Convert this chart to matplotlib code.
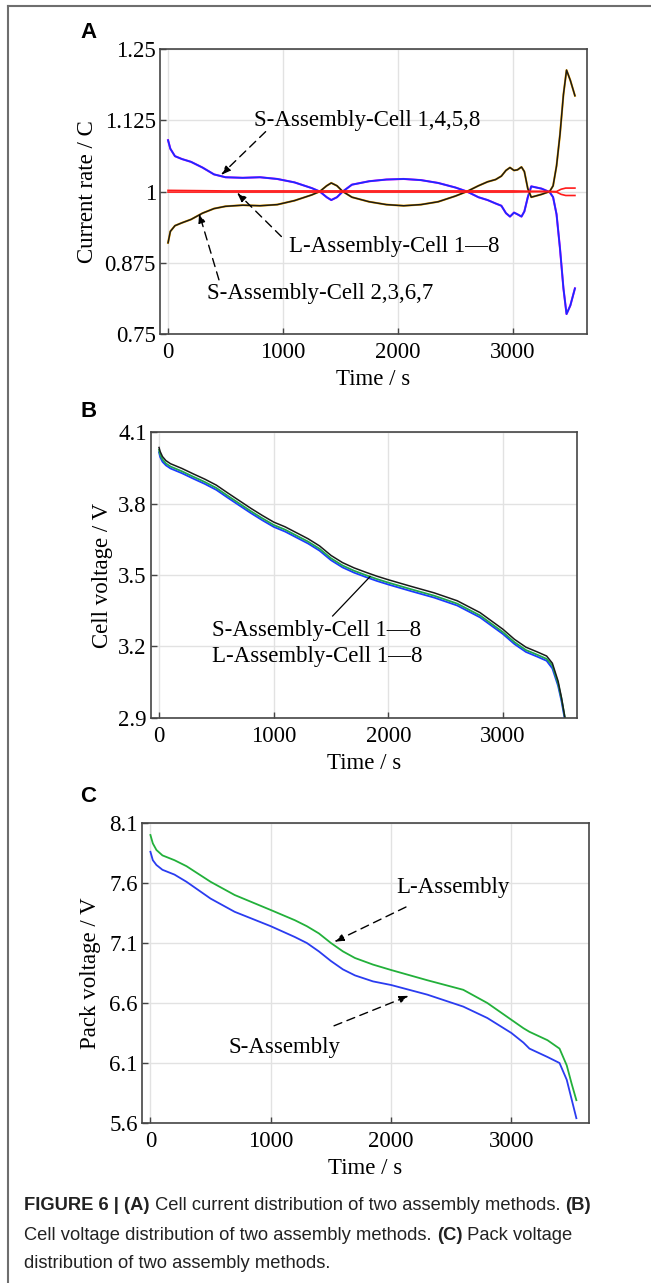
import matplotlib
matplotlib.use("Agg")
import matplotlib.pyplot as plt
from matplotlib.lines import Line2D

# ---- data ----
# panel A: cell current rate
tA = [0, 20, 60, 120, 200, 300, 400, 500, 650, 800, 950, 1100, 1250, 1320, 1380,
      1420, 1470, 1520, 1600, 1750, 1900, 2050, 2200, 2350, 2500, 2600, 2700, 2780,
      2850, 2900, 2940, 2975, 3010, 3040, 3075, 3100, 3130, 3160, 3250, 3320, 3350,
      3380, 3410, 3440, 3467, 3500, 3540]
s_1458 = [1.090, 1.075, 1.062, 1.057, 1.052, 1.042, 1.030, 1.025, 1.024, 1.025, 1.022,
          1.016, 1.006, 1.000, 0.990, 0.985, 0.990, 1.000, 1.012, 1.018, 1.021, 1.022,
          1.020, 1.015, 1.007, 1.000, 0.990, 0.985, 0.979, 0.975, 0.962, 0.956, 0.963,
          0.960, 0.956, 0.965, 0.990, 1.009, 1.005, 0.999, 0.990, 0.960, 0.900, 0.830,
          0.785, 0.800, 0.830]
s_2367 = [0.910, 0.930, 0.940, 0.945, 0.951, 0.962, 0.970, 0.974, 0.976, 0.975, 0.977,
          0.984, 0.994, 1.000, 1.010, 1.015, 1.010, 1.000, 0.990, 0.982, 0.977, 0.975,
          0.977, 0.982, 0.992, 1.000, 1.010, 1.017, 1.021, 1.027, 1.037, 1.042, 1.037,
          1.038, 1.043, 1.035, 1.005, 0.990, 0.995, 1.000, 1.010, 1.045, 1.100, 1.170,
          1.213, 1.195, 1.168]
tA_L = [0, 500, 1000, 1500, 2000, 2500, 3000, 3300, 3380, 3420, 3460, 3540]
l_hi = [1.002, 1.001, 1.001, 1.001, 1.001, 1.001, 1.001, 1.000, 1.000, 1.004, 1.006, 1.006]
l_lo = [0.999, 0.999, 0.999, 0.999, 0.999, 0.999, 0.999, 1.000, 0.999, 0.995, 0.993, 0.993]

# panel B: cell voltage
tB = [0, 10, 30, 60, 100, 150, 200, 300, 400, 500, 600, 700, 800, 900, 1000, 1100,
      1200, 1300, 1400, 1500, 1600, 1700, 1800, 1900, 2000, 2200, 2400, 2600, 2800,
      2900, 3000, 3100, 3200, 3300, 3380, 3430, 3480, 3510, 3540]
vB_black = [4.035, 4.018, 3.997, 3.980, 3.967, 3.957, 3.947, 3.924, 3.902, 3.877, 3.844,
            3.812, 3.780, 3.750, 3.722, 3.702, 3.677, 3.652, 3.622, 3.582, 3.552, 3.530,
            3.512, 3.495, 3.480, 3.452, 3.425, 3.392, 3.342, 3.307, 3.272, 3.230, 3.197,
            3.177, 3.160, 3.130, 3.055, 2.985, 2.900]
vB_green = [4.025, 4.005, 3.985, 3.968, 3.955, 3.945, 3.935, 3.912, 3.890, 3.865, 3.832,
            3.800, 3.768, 3.738, 3.710, 3.690, 3.665, 3.640, 3.610, 3.570, 3.540, 3.518,
            3.500, 3.483, 3.468, 3.440, 3.413, 3.380, 3.330, 3.295, 3.260, 3.218, 3.185,
            3.165, 3.148, 3.120, 3.045, 2.980, 2.900]
vB_blue = [4.015, 3.995, 3.975, 3.960, 3.947, 3.937, 3.927, 3.904, 3.882, 3.857, 3.824,
           3.792, 3.760, 3.730, 3.702, 3.682, 3.657, 3.632, 3.602, 3.562, 3.532, 3.510,
           3.492, 3.475, 3.460, 3.432, 3.405, 3.372, 3.322, 3.287, 3.252, 3.210, 3.177,
           3.157, 3.140, 3.108, 3.035, 2.970, 2.890]

# panel C: pack voltage
tC = [0, 20, 50, 100, 200, 300, 500, 700, 1000, 1200, 1300, 1400, 1500, 1600, 1700,
      1850, 2000, 2300, 2600, 2800, 3000, 3100, 3150, 3300, 3400, 3460, 3500, 3540]
pack_L = [8.00, 7.93, 7.875, 7.83, 7.79, 7.74, 7.61, 7.50, 7.375, 7.29, 7.24, 7.18,
          7.10, 7.03, 6.975, 6.92, 6.875, 6.79, 6.71, 6.60, 6.46, 6.39, 6.36, 6.29,
          6.22, 6.08, 5.93, 5.79]
pack_S = [7.86, 7.79, 7.75, 7.71, 7.67, 7.61, 7.47, 7.36, 7.24, 7.15, 7.10, 7.03,
          6.95, 6.88, 6.83, 6.78, 6.75, 6.67, 6.57, 6.475, 6.35, 6.27, 6.22, 6.15,
          6.10, 5.96, 5.80, 5.64]

xticks = [0, 1000, 2000, 3000]
yticksA = [0.75, 0.875, 1, 1.125, 1.25]
ylabA = ["0.75", "0.875", "1", "1.125", "1.25"]
yticksB = [2.9, 3.2, 3.5, 3.8, 4.1]
yticksC = [5.6, 6.1, 6.6, 7.1, 7.6, 8.1]

W, H = 651, 1283
SERIF = ["Liberation Serif", "DejaVu Serif"]
FS = 16.5
fig = plt.figure(figsize=(W / 100, H / 100), dpi=100)


def make_ax(left, right, top, bottom):
    ax = fig.add_axes([left / W, 1 - bottom / H, (right - left) / W, (bottom - top) / H])
    ax.set_xlim(-70, 3645)
    ax.set_xticks(xticks)
    ax.grid(True, color="#e2e2e2", lw=1)
    ax.set_axisbelow(True)
    for s in ax.spines.values():
        s.set_color("#454545")
        s.set_linewidth(1.2)
    ax.tick_params(direction="in", length=4, width=1, colors="#454545",
                   labelcolor="k", labelsize=FS)
    ax.tick_params(axis="x", pad=6)
    ax.tick_params(axis="y", pad=3)
    for lab in ax.get_xticklabels() + ax.get_yticklabels():
        lab.set_fontfamily(SERIF)
    ax.set_xlabel("Time / s", fontsize=FS, family=SERIF, labelpad=4)
    return ax


def dash_arrow(ax, tail, head):
    ax.annotate("", xy=head, xytext=tail,
                arrowprops=dict(arrowstyle="-|>,head_length=0.55,head_width=0.2",
                                ls=(0, (6, 4)), lw=1, color="k",
                                shrinkA=0, shrinkB=0))


# ---- panel A ----
axA = make_ax(160, 587, 49, 334)
axA.plot(tA, s_1458, color="#ff00ff", lw=1.5)
axA.plot(tA, s_1458, color="#1a2cff", lw=1.3)
axA.plot(tA, s_2367, color="#ffb000", lw=1.5)
axA.plot(tA, s_2367, color="#1a1a1a", lw=1.1)
axA.plot(tA_L, l_hi, color="#ff1a1a", lw=1.2)
axA.plot(tA_L, l_lo, color="#ff1a1a", lw=1.2)
axA.set_ylim(0.75, 1.25)
axA.set_yticks(yticksA)
axA.set_yticklabels(ylabA, family=SERIF)
axA.set_ylabel("Current rate / C", fontsize=FS, family=SERIF, labelpad=5)
axA.text(748, 1.125, "S-Assembly-Cell 1,4,5,8", fontsize=FS, family=SERIF, va="center")
dash_arrow(axA, (849, 1.105), (461, 1.029))
axA.text(1052, 0.903, "L-Assembly-Cell 1\u20148", fontsize=FS, family=SERIF, va="center")
dash_arrow(axA, (986, 0.921), (600, 0.998))
axA.text(343, 0.821, "S-Assembly-Cell 2,3,6,7", fontsize=FS, family=SERIF, va="center")
dash_arrow(axA, (443, 0.845), (270, 0.962))

# ---- panel B ----
axB = make_ax(151, 577, 432, 718)
axB.plot(tB, vB_blue, color="#1a3cff", lw=1.3)
axB.plot(tB, vB_green, color="#1fa550", lw=1.3)
axB.plot(tB, vB_black, color="#1a1a1a", lw=1.1)
axB.set_ylim(2.9, 4.1)
axB.set_yticks(yticksB)
axB.set_yticklabels([f"{v:.1f}" for v in yticksB], family=SERIF)
axB.set_ylabel("Cell voltage / V", fontsize=FS, family=SERIF, labelpad=4)
axB.text(465, 3.269, "S-Assembly-Cell 1\u20148", fontsize=FS, family=SERIF, va="center")
axB.text(465, 3.157, "L-Assembly-Cell 1\u20148", fontsize=FS, family=SERIF, va="center")
axB.plot([1514, 1840], [3.328, 3.493], color="k", lw=0.9)

# ---- panel C ----
axC = make_ax(142, 589, 823, 1123)
axC.plot(tC, pack_L, color="#22b03a", lw=1.3)
axC.plot(tC, pack_S, color="#2a3cf0", lw=1.3)
axC.set_ylim(5.6, 8.1)
axC.set_yticks(yticksC)
axC.set_yticklabels([f"{v:.1f}" for v in yticksC], family=SERIF)
axC.set_ylabel("Pack voltage / V", fontsize=FS, family=SERIF, labelpad=6)
axC.text(2045, 7.56, "L-Assembly", fontsize=FS, family=SERIF, va="center")
dash_arrow(axC, (2124, 7.40), (1528, 7.11))
axC.text(645, 6.225, "S-Assembly", fontsize=FS, family=SERIF, va="center")
dash_arrow(axC, (1526, 6.41), (2148, 6.66))

# panel letters
for lab, y in [("A", 32), ("B", 412), ("C", 797)]:
    fig.text(80 / W, 1 - y / H, lab, fontsize=16, fontweight="bold",
             family=["Liberation Sans", "DejaVu Sans"], va="center")

# outer frame (top and left only)
fig.add_artist(Line2D([8 / W, 8 / W], [0, 1 - 6 / H], color="#6e6e6e", lw=1.5,
                      transform=fig.transFigure))
fig.add_artist(Line2D([8 / W, 1], [1 - 6 / H, 1 - 6 / H], color="#6e6e6e", lw=1.5,
                      transform=fig.transFigure))

# caption, bold parts chained after the plain ones
CAP = ["Liberation Sans", "DejaVu Sans"]
cap_lines = [
    [("FIGURE 6 | (A)", True), (" Cell current distribution of two assembly methods. ", False),
     ("(B)", True)],
    [("Cell voltage distribution of two assembly methods. ", False), ("(C)", True),
     (" Pack voltage", False)],
    [("distribution of two assembly methods.", False)],
]
for i, pieces in enumerate(cap_lines):
    y = 1206 + 29 * i
    prev = None
    for txt, bold in pieces:
        kw = dict(fontsize=13.2, family=CAP, color="#222222",
                  fontweight="bold" if bold else "normal")
        if prev is None:
            prev = fig.text(24 / W, 1 - y / H, txt, va="center", **kw)
        else:
            prev = fig.add_artist(plt.Annotation(txt, xy=(1, 0), xycoords=prev,
                                                 va="bottom", **kw))

fig.savefig("out.png", dpi=100)
